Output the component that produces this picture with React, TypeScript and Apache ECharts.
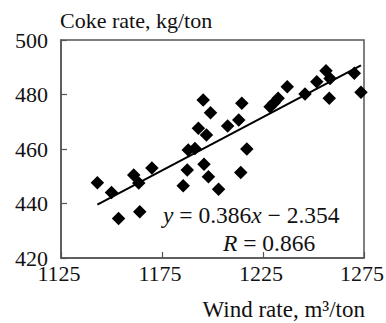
import React, { useEffect, useRef } from "react";
import * as echarts from "echarts";

const windRate = [
  1143, 1150, 1153.5, 1161, 1163.5, 1164, 1170, 1185.5, 1187.5, 1188, 1191.3,
  1195.4, 1199, 1193, 1197, 1195.8, 1198, 1203, 1207.5, 1213, 1214.5, 1217,
  1214, 1228.5, 1230.5, 1232.5, 1237, 1245.8, 1251.6, 1256.2, 1258.2, 1257.8,
  1270.2, 1273.5,
];
const cokeRate = [
  447.6, 444, 434.5, 450.5, 447.5, 437, 453, 446.5, 452.3, 459.6, 460.2, 478,
  473.3, 467.6, 465.1, 454.4, 449.8, 445.2, 468.4, 470.6, 476.8, 460, 451.4,
  475.5, 477, 478.6, 482.8, 480.2, 484.7, 488.7, 485.9, 478.6, 487.8, 480.8,
];
const fitX = [1143, 1273.5];
const fitY = [439.6, 490.7];
const xTicks = [1125, 1175, 1225, 1275];
const yTicks = [420, 440, 460, 480, 500];

const FAMILY = "Liberation Serif";
const FONT = `22px "Liberation Serif", serif`;
const FONT_BIG = `23.5px "Liberation Serif", serif`;

export default function App() {
  const ref = useRef<HTMLDivElement>(null);
  useEffect(() => {
    if (!ref.current) return;
    const chart = echarts.init(ref.current, null, { renderer: "svg" });
    const points = windRate.map((x, i) => [x, cokeRate[i]]);
    const fit = fitX.map((x, i) => [x, fitY[i]]);
    const xMin = xTicks[0];
    const xMax = xTicks[xTicks.length - 1];
    const yMin = yTicks[0];
    const yMax = yTicks[yTicks.length - 1];
    chart.setOption({
      animation: false,
      backgroundColor: "#fff",
      textStyle: { fontFamily: FAMILY },
      grid: {
        left: 61,
        right: 22,
        top: 40,
        bottom: 65,
        show: true,
        borderColor: "#555",
        borderWidth: 1.5,
        backgroundColor: "transparent",
      },
      xAxis: {
        type: "value",
        min: xMin,
        max: xMax,
        interval: 50,
        axisLine: { show: true, lineStyle: { color: "#555", width: 1.5 } },
        axisTick: { show: true, inside: true, length: 6, lineStyle: { color: "#555", width: 1.2 } },
        splitLine: { show: false },
        axisLabel: { show: false },
      },
      yAxis: {
        type: "value",
        min: yMin,
        max: yMax,
        interval: 20,
        axisLine: { show: true, lineStyle: { color: "#555", width: 1.5 } },
        axisTick: { show: true, inside: true, length: 6, lineStyle: { color: "#555", width: 1.2 } },
        splitLine: { show: false },
        axisLabel: { show: false },
      },
      series: [
        {
          type: "scatter",
          data: points,
          symbol: "diamond",
          symbolSize: 13.5,
          itemStyle: { color: "#000", opacity: 1 },
          z: 3,
        },
        {
          type: "line",
          data: fit,
          showSymbol: false,
          symbol: "none",
          lineStyle: { color: "#000", width: 2 },
          z: 2,
        },
      ],
    });

    const tickTexts: any[] = [];
    xTicks.forEach((v) => {
      const p = chart.convertToPixel({ gridIndex: 0 }, [v, yMin]) as number[];
      tickTexts.push({
        type: "text",
        x: p[0] - 2,
        y: p[1] + 4,
        style: {
          text: String(v),
          font: FONT,
          fill: "#111",
          textAlign: "center",
          textVerticalAlign: "top",
        },
      });
    });
    yTicks.forEach((v) => {
      const p = chart.convertToPixel({ gridIndex: 0 }, [xMin, v]) as number[];
      tickTexts.push({
        type: "text",
        x: p[0] - 13,
        y: p[1],
        style: {
          text: String(v),
          font: FONT,
          fill: "#111",
          textAlign: "right",
          textVerticalAlign: "middle",
        },
      });
    });

    chart.setOption({
      graphic: [
        ...tickTexts,
        {
          type: "text",
          x: 60,
          y: 20,
          style: {
            text: "Coke rate, kg/ton",
            font: FONT,
            fill: "#111",
            textAlign: "left",
            textVerticalAlign: "middle",
          },
        },
        {
          type: "text",
          x: 365,
          y: 309,
          style: {
            text: "Wind rate, m³/ton",
            font: `23px "Liberation Serif", serif`,
            fill: "#111",
            textAlign: "right",
            textVerticalAlign: "middle",
          },
        },
        {
          type: "text",
          x: 163,
          y: 215,
          style: {
            text: "{i|y} = 0.386{i|x} − 2.354",
            font: FONT_BIG,
            fill: "#111",
            textAlign: "left",
            textVerticalAlign: "middle",
            rich: {
              i: { fontFamily: FAMILY, fontSize: 23.5, fontStyle: "italic", fill: "#111" },
            },
          },
        },
        {
          type: "text",
          x: 223,
          y: 243,
          style: {
            text: "{i|R} = 0.866",
            font: FONT_BIG,
            fill: "#111",
            textAlign: "left",
            textVerticalAlign: "middle",
            rich: {
              i: { fontFamily: FAMILY, fontSize: 23.5, fontStyle: "italic", fill: "#111" },
            },
          },
        },
      ],
    });
    return () => chart.dispose();
  }, []);
  return (
    <div
      ref={ref}
      style={{ position: "fixed", left: 0, top: 0, width: 386, height: 323 }}
    />
  );
}
